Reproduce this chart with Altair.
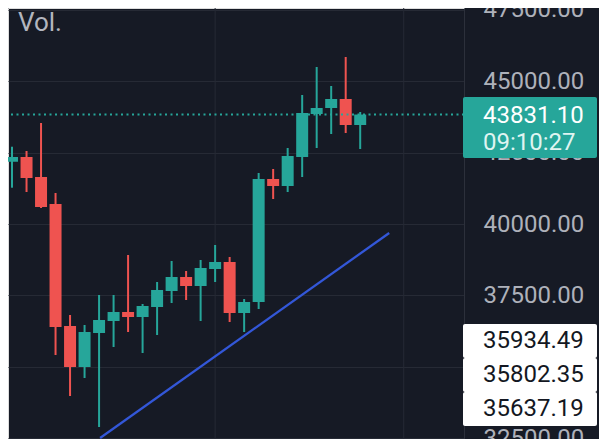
import altair as alt
import pandas as pd

# ---- data ----
idx = list(range(25))
opens = [42180, 42345, 41645, 40700, 36430, 34995, 36185, 36605, 36920, 36745,
         37095, 37655, 38145, 37830, 38425, 38670, 36885, 37270, 41575, 41330,
         42345, 43850, 44060, 44375, 43465]
highs = [42705, 42555, 43535, 41085, 36815, 36465, 37515, 37515, 38915, 37200,
         37970, 38705, 38355, 38740, 39265, 38845, 37375, 41785, 41925, 42660,
         44515, 45495, 44830, 45845, 43920]
lows = [41270, 41120, 40560, 35415, 33980, 34610, 32895, 35695, 36220, 35485,
        36115, 37235, 37340, 36605, 37970, 36570, 36220, 37025, 40875, 41120,
        41645, 42660, 43150, 43185, 42625]
closes = [42345, 41610, 40595, 36395, 34995, 36220, 36640, 36920, 36745, 37130,
          37690, 38145, 37830, 38460, 38670, 36885, 37270, 41575, 41330, 42380,
          43885, 44060, 44375, 43465, 43831.10]

price_ticks = [32500, 35000, 37500, 40000, 42500, 45000, 47500]
vgrid_idx = [14, 27]
trend_idx = [6.07, 26.0]
trend_price = [32510, 39685]
last_price = [43831.10]
last_time = ["09:10:27"]
order_prices = [35934.49, 35802.35, 35637.19]
panel_label = ["Vol."]

# ---- style ----
BG = "#161a25"
GRID = "#262a35"
TEAL = "#26a69a"
RED = "#ef5350"
BLUE = "#3357d8"
LABEL = "#aeb1ba"
FONT = "Roboto"

df = pd.DataFrame({"i": idx, "open": opens, "high": highs, "low": lows, "close": closes})

xscale = alt.Scale(domain=[0.0674, 30.81], nice=False, zero=False)
yscale = alt.Scale(domain=[32475, 47560], nice=False, zero=False)
yaxis = alt.Axis(orient="right", values=price_ticks, format=".2f", grid=True,
                 gridColor=GRID, gridWidth=1, ticks=False, labelPadding=19,
                 labelFont=FONT, labelFontSize=24, labelColor=LABEL,
                 domain=True, domainColor="#2c303b", labelAlign="left",
                 labelBaseline="middle", title=None, labelOverlap=False,
                 labelExpr="datum.value == 35000 ? '' : datum.label")


def X(field):
    return alt.X(field, type="quantitative", scale=xscale, axis=None)


def Y(field=None, datum=None):
    if datum is not None:
        return alt.Y(datum=datum, type="quantitative", scale=yscale, axis=yaxis)
    return alt.Y(field, type="quantitative", scale=yscale, axis=yaxis)


color = alt.Color("dir:N", scale=alt.Scale(domain=["up", "down"], range=[TEAL, RED]), legend=None)

vgrid = alt.Chart(pd.DataFrame({"i": vgrid_idx})).mark_rule(color=GRID, strokeWidth=1).encode(x=X("i"))

candles = alt.Chart(df).transform_calculate(dir="datum.close >= datum.open ? 'up' : 'down'")
wicks = candles.mark_rule(strokeWidth=2).encode(x=X("i"), y=Y("low"), y2="high", color=color)
bodies = candles.mark_bar(size=12).encode(x=X("i"), y=Y("open"), y2="close", color=color)

trend = alt.Chart(pd.DataFrame({"i": trend_idx, "price": trend_price})).mark_line(
    color=BLUE, strokeWidth=2.3).encode(x=X("i"), y=Y("price"))

tag_df = pd.DataFrame({"price": last_price, "time": last_time})
price_line = alt.Chart(tag_df).mark_rule(color=TEAL, strokeWidth=2, strokeDash=[2, 3.5]).encode(y=Y("price"))

vol = alt.Chart(pd.DataFrame({"t": panel_label})).mark_text(
    align="left", baseline="alphabetic", font=FONT, fontSize=26, color="#b2b5be").encode(
    x=alt.value(10), y=alt.value(22.5), text="t:N")

tag_box = alt.Chart(tag_df).mark_rect(color=TEAL, cornerRadius=2, yOffset=-17.5, y2Offset=43.5).encode(
    x=alt.value(455), x2=alt.value(589), y=Y("price"), y2="price")
tag_price = alt.Chart(tag_df).mark_text(align="left", baseline="middle", font=FONT, fontSize=24,
                                        color="#ffffff", dy=1).encode(
    x=alt.value(475), y=Y("price"), text=alt.Text("price:Q", format=".2f"))
tag_time = alt.Chart(tag_df).mark_text(align="left", baseline="middle", font=FONT, fontSize=24,
                                       color="#dff4f1", dy=28).encode(
    x=alt.value(475), y=Y("price"), text="time:N")

layers = [vgrid, wicks, bodies, trend, price_line, vol, tag_box, tag_price, tag_time]

anchor = order_prices[0]
for k, p in enumerate(order_prices):
    odf = pd.DataFrame({"price": [p]})
    box = alt.Chart(odf).mark_rect(color="#ffffff", cornerRadius=2,
                                   yOffset=-16.2 + 34 * k, y2Offset=17.8 + 34 * k).encode(
        x=alt.value(455), x2=alt.value(589), y=Y(datum=anchor), y2=alt.Y2(datum=anchor))
    txt = alt.Chart(odf).mark_text(align="left", baseline="middle", font=FONT, fontSize=24,
                                   color="#131722", dy=1 + 34 * k).encode(
        x=alt.value(475), y=Y(datum=anchor), text=alt.Text("price:Q", format=".2f"))
    layers += [box, txt]

chart = alt.layer(*layers).properties(
    width=456, height=431,
    autosize=alt.AutoSizeParams(type="none"),
    padding={"left": 0, "top": 0, "right": 135, "bottom": 0},
    background=BG,
).configure_view(stroke=None).configure(font=FONT)

chart.save("out.html", embed_options={"renderer": "svg", "actions": False})
